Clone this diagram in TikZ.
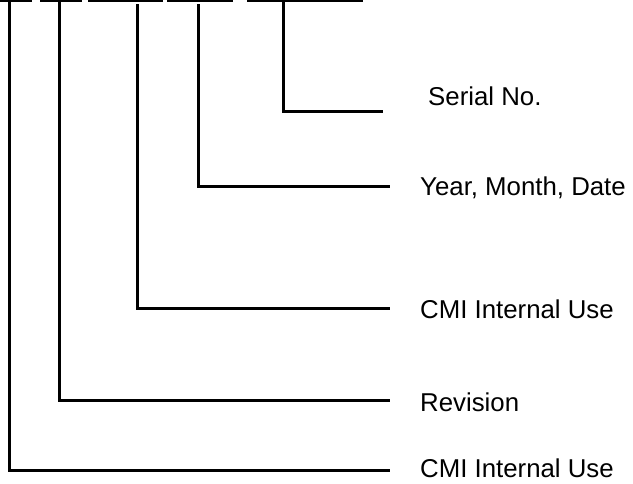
\documentclass[tikz,border=0pt]{standalone}
\usepackage{fontspec}
\setmainfont{Liberation Sans}

\begin{document}
\begin{tikzpicture}[
  x=1pt,
  y=-1pt,
  line/.style={draw=black,line width=3pt},
  fieldtext/.style={anchor=base west,inner sep=0pt,font=\fontsize{25.8}{30}\selectfont}
]
\useasboundingbox (0,0) rectangle (633,483);

% ---------------------------------------------------------------- field bars along the top
\foreach \a/\b in {0/32,40/82,88/163,167/233,247/363}
  \draw[line] (\a,0.5) -- (\b,0.5);

% tap points under the bars
\coordinate (tap1) at (9,1);
\coordinate (tap2) at (59,1);
\coordinate (tap3) at (137,4);
\coordinate (tap4) at (198,4);
\coordinate (tap5) at (283,1);

% ---------------------------------------------------------------- lead ends
\coordinate (end1) at (390,470);
\coordinate (end2) at (390,400);
\coordinate (end3) at (390,308);
\coordinate (end4) at (390,186);
\coordinate (end5) at (383,111);

% ---------------------------------------------------------------- labels
\node[fieldtext] (serial) at (428,105) {Serial No.};
\node[fieldtext] (date)   at (420,195) {Year, Month, Date};
\node[fieldtext] (cmib)   at (420,318) {CMI Internal Use};
\node[fieldtext] (rev)    at (420,411) {Revision};
\node[fieldtext] (cmia)   at (420,477) {CMI Internal Use};

% ---------------------------------------------------------------- leads
\draw[line] (tap1) |- (end1);
\draw[line] (tap2) |- (end2);
\draw[line] (tap3) |- (end3);
\draw[line] (tap4) |- (end4);
\draw[line] (tap5) |- (end5);

\end{tikzpicture}
\end{document}
